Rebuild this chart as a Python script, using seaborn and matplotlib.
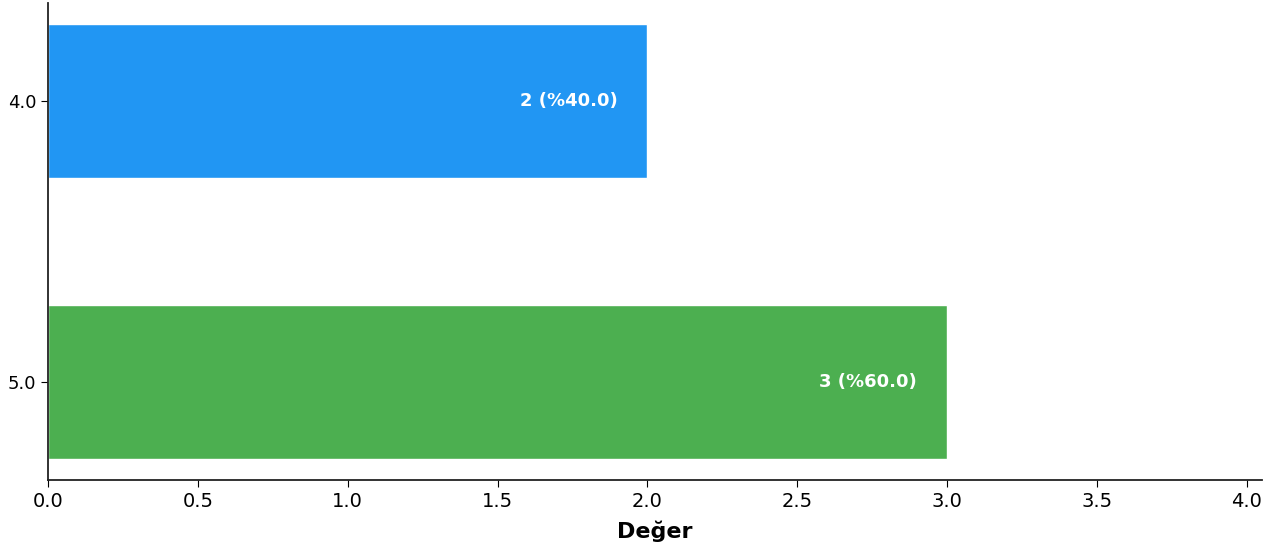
import pandas as pd
import matplotlib
matplotlib.use("Agg")
import matplotlib.pyplot as plt
import seaborn as sns

kategoriler = ["4.0", "5.0"]
degerler = [2, 3]
renkler = ["#2196F3", "#4CAF50"]

df = pd.DataFrame({"kategori": kategoriler, "deger": degerler})
toplam = sum(degerler)

sns.set_style("white")
plt.rcParams["font.family"] = ["DejaVu Sans"]
plt.rcParams["text.color"] = "black"
plt.rcParams["axes.labelcolor"] = "black"
plt.rcParams["xtick.color"] = "black"
plt.rcParams["ytick.color"] = "black"

fig = plt.figure(figsize=(12.8, 5.54), dpi=100)
ax = fig.add_axes([0.0375, 0.1336, 0.9484, 0.861])

sns.barplot(data=df, x="deger", y="kategori", hue="kategori", palette=renkler,
            orient="h", width=0.55, legend=False, saturation=1, ax=ax)

for i, v in enumerate(degerler):
    ax.text(v - 0.1, i, f"{v} (%{v / toplam * 100:.1f})", ha="right", va="center",
            color="white", fontweight="bold", fontsize=13)

ax.set_xlim(0, max(degerler) * 1.35)
ax.set_ylim(1.35, -0.35)
ax.set_xlabel("Değer", fontsize=16, fontweight="bold", labelpad=7)
ax.set_ylabel("")
ax.tick_params(axis="x", labelsize=14, length=5, bottom=True)
ax.tick_params(axis="y", labelsize=13, length=5, left=True)
sns.despine(ax=ax)
for s in ["left", "bottom"]:
    ax.spines[s].set_color("#222222")
    ax.spines[s].set_linewidth(1.3)

fig.savefig("out.png", dpi=100)
